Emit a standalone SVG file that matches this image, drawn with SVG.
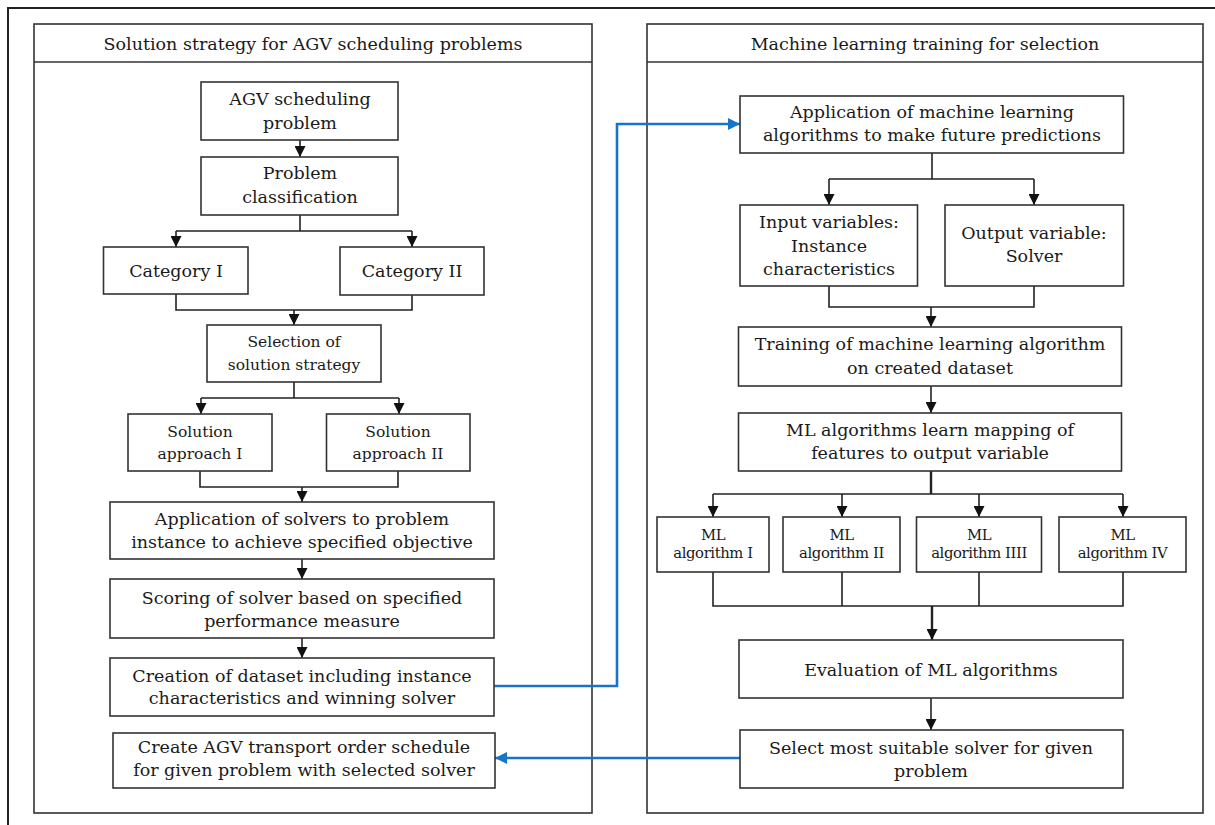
<svg xmlns="http://www.w3.org/2000/svg" width="1215" height="825" viewBox="0 0 1215 825">
<style>
.frame{fill:none;stroke:#222;stroke-width:2}
.panel{fill:none;stroke:#333;stroke-width:1.6}
.box{fill:#fff;stroke:#333;stroke-width:1.6}
.t{font-family:"DejaVu Serif","Liberation Serif",serif;font-size:17.5px;fill:#1a1a1a;text-anchor:middle}
.s{font-size:15.5px}
.xs{font-size:14.8px;letter-spacing:-0.4px}
.c{fill:none;stroke:#222;stroke-width:1.6}
.ck{fill:none;stroke:#222;stroke-width:2.4}
.b{fill:none;stroke:#1874c8;stroke-width:2.6}
</style>
<defs>
<marker id="ah" viewBox="0 0 10 10" refX="10" refY="5" markerWidth="11" markerHeight="11" markerUnits="userSpaceOnUse" orient="auto"><path d="M0,0 L10,5 L0,10 z" fill="#111"/></marker>
<marker id="ahb" viewBox="0 0 10 10" refX="10" refY="5" markerWidth="12" markerHeight="12" markerUnits="userSpaceOnUse" orient="auto"><path d="M0,0 L10,5 L0,10 z" fill="#1874c8"/></marker>
</defs>
<rect x="0" y="0" width="1215" height="825" fill="#fff"/>
<rect class="frame" x="8" y="8" width="1220" height="830"/>

<g id="panel-left">
<rect class="panel" x="34" y="24" width="558" height="789"/>
<line class="panel" x1="34" y1="62" x2="592" y2="62"/>
<text class="t" x="313" y="50">Solution strategy for AGV scheduling problems</text>
</g>
<g id="panel-right">
<rect class="panel" x="647" y="24" width="556" height="789"/>
<line class="panel" x1="647" y1="62" x2="1203" y2="62"/>
<text class="t" x="925" y="50">Machine learning training for selection</text>
</g>

<g id="connectors">
<path class="c" d="M300,140 V157" marker-end="url(#ah)"/>
<path class="c" d="M300,215 V231 M176,231 H412"/>
<path class="c" d="M176,231 V247" marker-end="url(#ah)"/>
<path class="c" d="M412,231 V247" marker-end="url(#ah)"/>
<path class="c" d="M176,294 V310 H412 V295"/>
<path class="c" d="M294,310 V325" marker-end="url(#ah)"/>
<path class="c" d="M294,382 V398 M201,398 H399"/>
<path class="c" d="M201,398 V414" marker-end="url(#ah)"/>
<path class="c" d="M399,398 V414" marker-end="url(#ah)"/>
<path class="c" d="M200,471 V487 H398 V471"/>
<path class="c" d="M302,487 V502" marker-end="url(#ah)"/>
<path class="c" d="M302,559 V579" marker-end="url(#ah)"/>
<path class="c" d="M302,638 V658" marker-end="url(#ah)"/>

<path class="c" d="M932,153 V179 M829,179 H1034"/>
<path class="c" d="M829,179 V205" marker-end="url(#ah)"/>
<path class="c" d="M1034,179 V205" marker-end="url(#ah)"/>
<path class="c" d="M829,286 V307 H1034 V286"/>
<path class="c" d="M931,307 V327" marker-end="url(#ah)"/>
<path class="c" d="M931,386 V413" marker-end="url(#ah)"/>
<path class="ck" d="M931,471 V494"/>
<path class="c" d="M713,494 H1123"/>
<path class="c" d="M713,494 V517" marker-end="url(#ah)"/>
<path class="c" d="M842,494 V517" marker-end="url(#ah)"/>
<path class="c" d="M979,494 V517" marker-end="url(#ah)"/>
<path class="c" d="M1123,494 V517" marker-end="url(#ah)"/>
<path class="c" d="M713,572 V606 H1123 V572 M842,572 V606 M979,572 V606"/>
<path class="ck" d="M932,606 V640" marker-end="url(#ah)"/>
<path class="c" d="M931,698 V730" marker-end="url(#ah)"/>

<path class="b" d="M494,686 H617 V124 H740" marker-end="url(#ahb)"/>
<path class="b" d="M740,758 H495" marker-end="url(#ahb)"/>
</g>

<g id="n-agv"><rect class="box" x="201" y="82" width="197" height="58"/><text class="t" x="300" y="105">AGV scheduling</text><text class="t" x="300" y="129">problem</text></g>
<g id="n-class"><rect class="box" x="201" y="157" width="197" height="58"/><text class="t" x="300" y="179">Problem</text><text class="t" x="300" y="203">classification</text></g>
<g id="n-cat1"><rect class="box" x="103.5" y="247" width="144.5" height="47"/><text class="t" x="176" y="277">Category I</text></g>
<g id="n-cat2"><rect class="box" x="340" y="247" width="144" height="48"/><text class="t" x="412" y="277">Category II</text></g>
<g id="n-sel"><rect class="box" x="207" y="325" width="174" height="57"/><text class="t s" x="294" y="347">Selection of</text><text class="t s" x="294" y="370">solution strategy</text></g>
<g id="n-sa1"><rect class="box" x="128" y="414" width="144" height="57"/><text class="t s" x="200" y="437">Solution</text><text class="t s" x="200" y="459">approach I</text></g>
<g id="n-sa2"><rect class="box" x="326.5" y="414" width="143.5" height="57"/><text class="t s" x="398" y="437">Solution</text><text class="t s" x="398" y="459">approach II</text></g>
<g id="n-apply"><rect class="box" x="110" y="502" width="384" height="57"/><text class="t" x="302" y="525">Application of solvers to problem</text><text class="t" x="302" y="548">instance to achieve specified objective</text></g>
<g id="n-score"><rect class="box" x="110" y="579" width="384" height="59"/><text class="t" x="302" y="604">Scoring of solver based on specified</text><text class="t" x="302" y="627">performance measure</text></g>
<g id="n-data"><rect class="box" x="110" y="658" width="384" height="58"/><text class="t" x="302" y="682">Creation of dataset including instance</text><text class="t" x="302" y="704">characteristics and winning solver</text></g>
<g id="n-create"><rect class="box" x="113" y="733" width="382" height="55"/><text class="t" x="304" y="753">Create AGV transport order schedule</text><text class="t" x="304" y="776">for given problem with selected solver</text></g>

<g id="n-mlapp"><rect class="box" x="740" y="96" width="383.5" height="57"/><text class="t" x="932" y="118">Application of machine learning</text><text class="t" x="932" y="141">algorithms to make future predictions</text></g>
<g id="n-input"><rect class="box" x="740" y="205" width="177.5" height="81"/><text class="t" x="829" y="228">Input variables:</text><text class="t" x="829" y="252">Instance</text><text class="t" x="829" y="275">characteristics</text></g>
<g id="n-output"><rect class="box" x="945" y="205" width="178.5" height="81"/><text class="t" x="1034" y="239">Output variable:</text><text class="t" x="1034" y="262">Solver</text></g>
<g id="n-train"><rect class="box" x="738.5" y="327" width="383" height="59"/><text class="t" x="930" y="350">Training of machine learning algorithm</text><text class="t" x="930" y="374">on created dataset</text></g>
<g id="n-map"><rect class="box" x="738.5" y="413" width="383" height="58"/><text class="t" x="930" y="436">ML algorithms learn mapping of</text><text class="t" x="930" y="459">features to output variable</text></g>
<g id="n-ml1"><rect class="box" x="657" y="517" width="112" height="55"/><text class="t xs" x="713" y="540">ML</text><text class="t xs" x="713" y="558">algorithm I</text></g>
<g id="n-ml2"><rect class="box" x="783" y="517" width="117" height="55"/><text class="t xs" x="841.5" y="540">ML</text><text class="t xs" x="841.5" y="558">algorithm II</text></g>
<g id="n-ml3"><rect class="box" x="916.5" y="517" width="125" height="55"/><text class="t xs" x="979" y="540">ML</text><text class="t xs" x="979" y="558">algorithm IIII</text></g>
<g id="n-ml4"><rect class="box" x="1059" y="517" width="127" height="55"/><text class="t xs" x="1122.5" y="540">ML</text><text class="t xs" x="1122.5" y="558">algorithm IV</text></g>
<g id="n-eval"><rect class="box" x="739" y="640" width="384" height="58"/><text class="t" x="931" y="676">Evaluation of ML algorithms</text></g>
<g id="n-select"><rect class="box" x="740" y="730" width="383" height="58"/><text class="t" x="931" y="754">Select most suitable solver for given</text><text class="t" x="931" y="777">problem</text></g>
</svg>
